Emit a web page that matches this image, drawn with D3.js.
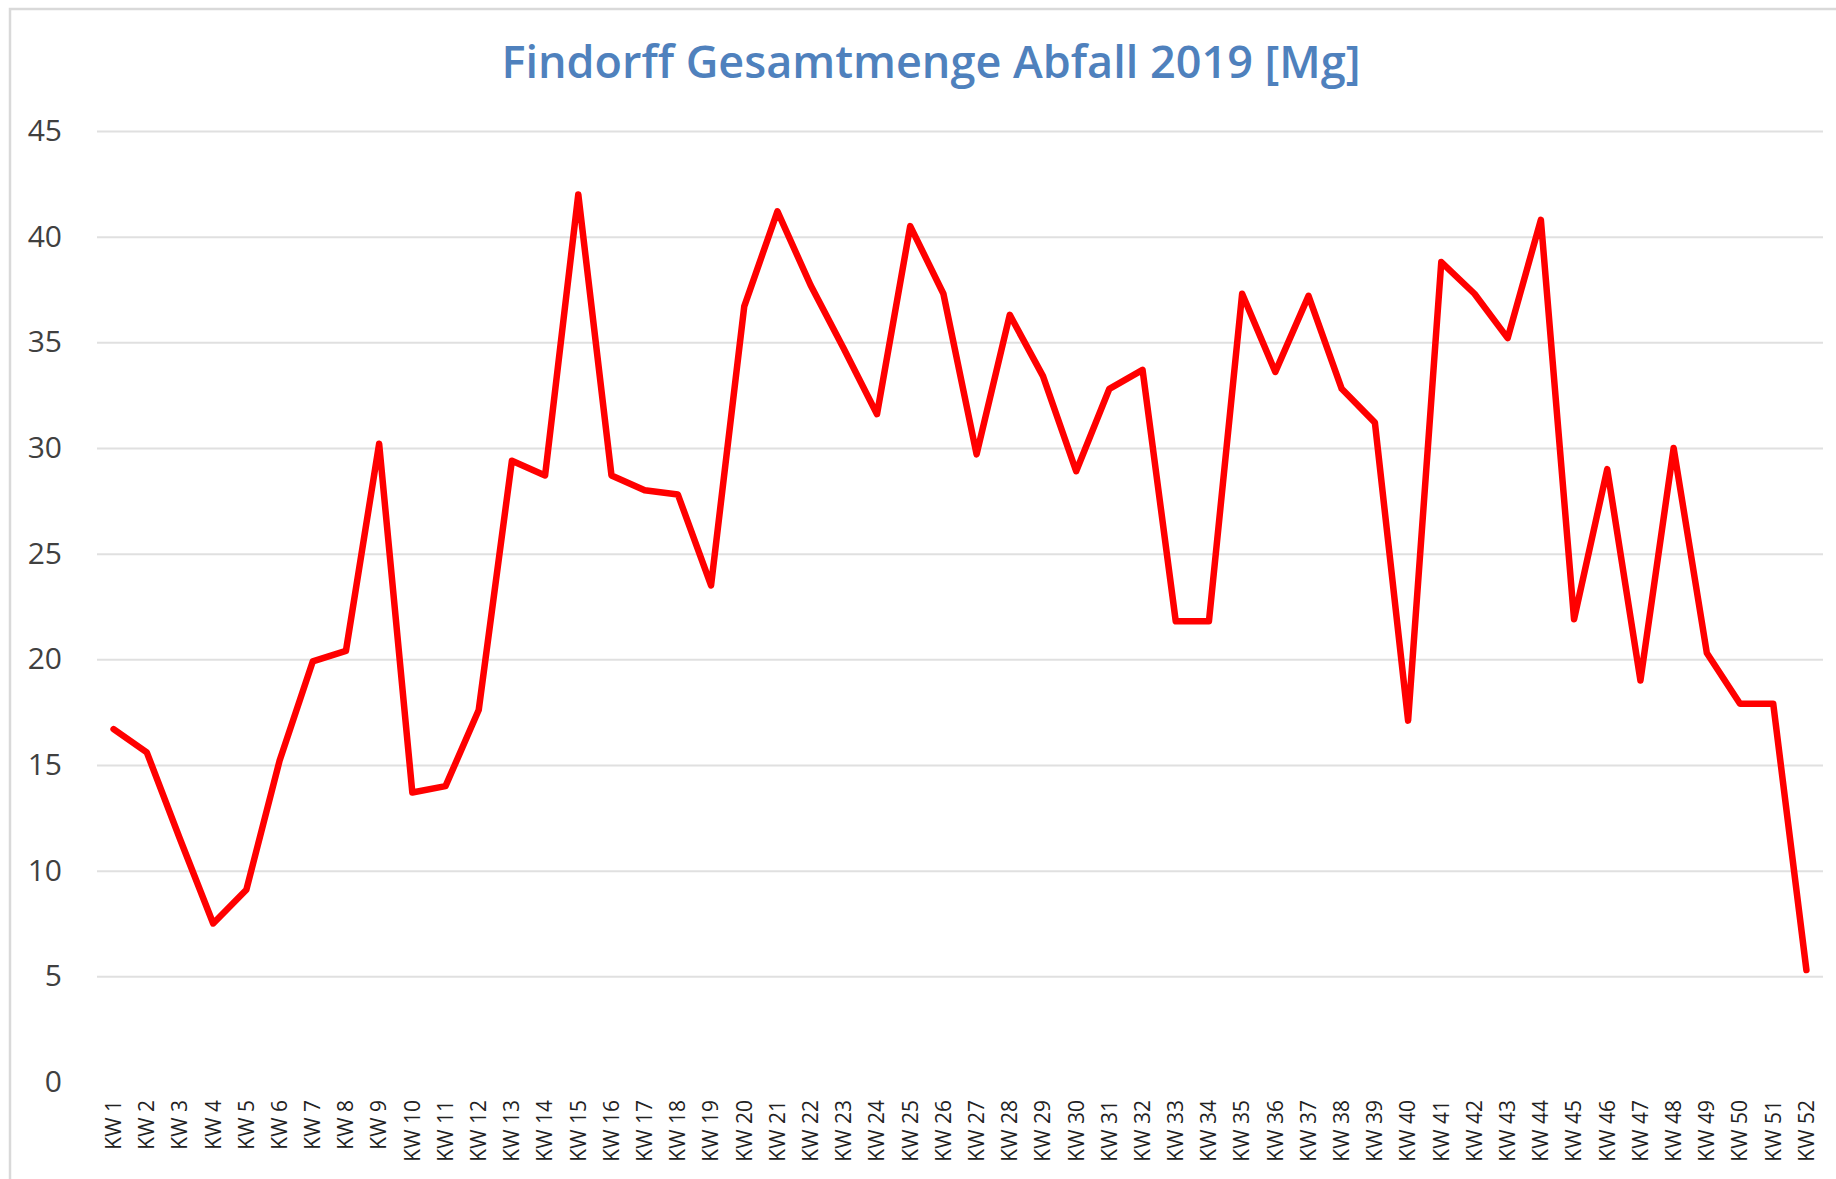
<!DOCTYPE html>
<html>
<head>
<meta charset="utf-8">
<script src="https://cdn.jsdelivr.net/npm/d3@7"></script>
<style>
  body { margin: 0; background: #fff; }
  svg { display: block; }
</style>
</head>
<body>
<div id="chart"></div>
<script>
// weekly totals, Findorff 2019
const weeks = d3.range(1, 53).map(function (d) { return "KW " + d; });
const values = [
  16.7, 15.6, 11.5, 7.5, 9.1, 15.2, 19.9, 20.4, 30.2, 13.7,
  14.0, 17.6, 29.4, 28.7, 42.0, 28.7, 28.0, 27.8, 23.5, 36.7,
  41.2, 37.7, 34.7, 31.6, 40.5, 37.3, 29.7, 36.3, 33.4, 28.9,
  32.8, 33.7, 21.8, 21.8, 37.3, 33.6, 37.2, 32.8, 31.2, 17.1,
  38.8, 37.3, 35.2, 40.8, 21.9, 29.0, 19.0, 30.0, 20.3, 17.9,
  17.9, 5.3
];
const yTicks = [0, 5, 10, 15, 20, 25, 30, 35, 40, 45];
const title = "Findorff Gesamtmenge Abfall 2019 [Mg]";

const W = 1836, H = 1179;
const margin = { top: 131, right: 13, bottom: 97, left: 97 },
  width = W - margin.left - margin.right,
  height = H - margin.top - margin.bottom;

const svg = d3.select("#chart").append("svg")
  .attr("width", W)
  .attr("height", H);

// chart area border (only top and left are inside the picture)
svg.append("rect")
  .attr("x", 10).attr("y", 9)
  .attr("width", W + 20).attr("height", H + 20)
  .attr("fill", "#fff")
  .attr("stroke", "#d9d9d9")
  .attr("stroke-width", 2.5);

svg.append("text")
  .attr("x", 931)
  .attr("y", 78)
  .attr("text-anchor", "middle")
  .attr("font-family", "'Open Sans', sans-serif")
  .attr("font-weight", 600)
  .attr("font-size", 45)
  .attr("fill", "#4F81BD")
  .text(title);

const g = svg.append("g")
  .attr("transform", "translate(" + margin.left + "," + margin.top + ")");

const x = d3.scaleBand()
  .domain(weeks)
  .range([0, width]);

const y = d3.scaleLinear()
  .domain([0, 45])
  .range([height, 0]);

// y axis + gridlines
const yAxis = g.append("g")
  .call(d3.axisLeft(y).tickValues(yTicks).tickSize(-width).tickPadding(35));
yAxis.select(".domain").remove();
yAxis.selectAll(".tick line")
  .attr("stroke", "#e0e0e0")
  .attr("stroke-width", 2)
  .attr("display", function (d) { return d === 0 ? "none" : null; });
yAxis.selectAll(".tick text")
  .attr("font-family", "'Open Sans', sans-serif")
  .attr("font-size", 30)
  .attr("fill", "#404040");

// x axis labels
const xAxis = g.append("g")
  .attr("transform", "translate(0," + height + ")")
  .call(d3.axisBottom(x).tickSize(0));
xAxis.select(".domain").remove();
xAxis.selectAll(".tick text")
  .attr("transform", "rotate(-90)")
  .attr("x", -18)
  .attr("y", 0)
  .attr("dy", "0.35em")
  .style("text-anchor", "end")
  .attr("font-family", "'Open Sans', sans-serif")
  .attr("font-size", 21)
  .attr("fill", "#222");

const line = d3.line()
  .x(function (d, i) { return x(weeks[i]) + x.bandwidth() / 2; })
  .y(function (d) { return y(d); });

g.append("path")
  .datum(values)
  .attr("fill", "none")
  .attr("stroke", "#ff0000")
  .attr("stroke-width", 6.5)
  .attr("stroke-linejoin", "round")
  .attr("stroke-linecap", "round")
  .attr("d", line);
</script>
</body>
</html>
